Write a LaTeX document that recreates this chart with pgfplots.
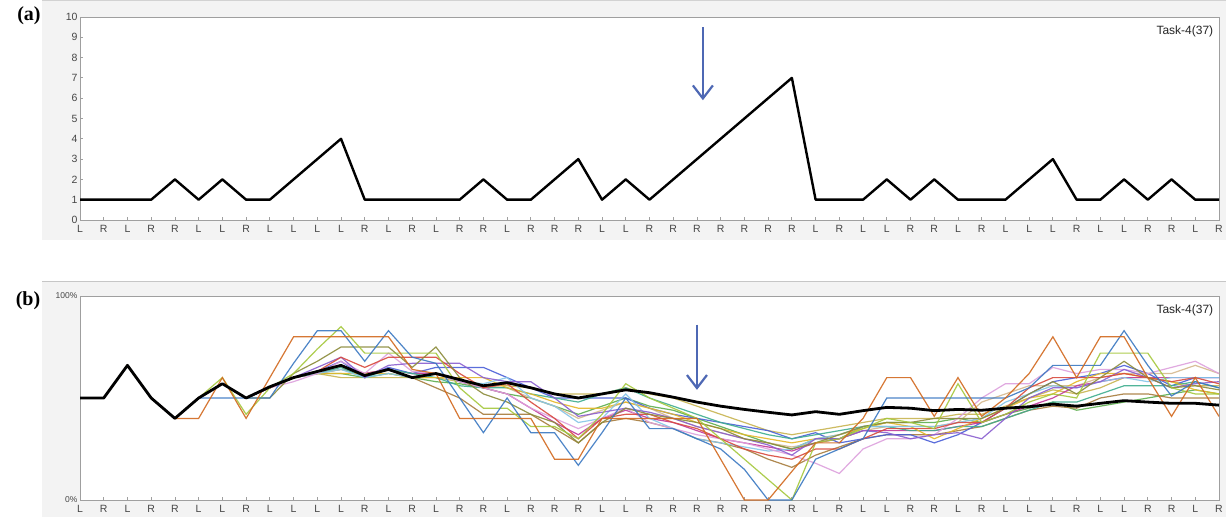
\documentclass[border=0pt]{standalone}
\usepackage{pgfplots}
\pgfplotsset{compat=1.18}
\usepackage{fontspec}
\setmainfont{Liberation Serif}
\newfontfamily\uifont{Liberation Sans}
\usetikzlibrary{arrows.meta}

\definecolor{cOr}{HTML}{D2691E}
\definecolor{cSb}{HTML}{3A78C2}
\definecolor{cYg}{HTML}{A5C83C}
\definecolor{cOl}{HTML}{8B8B3A}
\definecolor{cRd}{HTML}{D94A3E}
\definecolor{cVi}{HTML}{8A5FD0}
\definecolor{cPl}{HTML}{DDA0DD}
\definecolor{cLb}{HTML}{86C5E8}
\definecolor{cGd}{HTML}{E5B829}
\definecolor{cTe}{HTML}{3FAE8F}
\definecolor{cRb}{HTML}{4A5FD8}
\definecolor{cMg}{HTML}{C2389A}
\definecolor{cTn}{HTML}{D5B98E}
\definecolor{cBo}{HTML}{A77C3C}
\definecolor{cGr}{HTML}{5DAE4E}
\definecolor{cKh}{HTML}{C8B450}
\definecolor{arrowblue}{HTML}{4E68B4}
\definecolor{panelbg}{HTML}{F3F3F3}

\pgfplotsset{
  panel/.style={
    scale only axis, width=1139pt, anchor=south west,
    xmin=1, xmax=49, xtick={1,...,49},
    xticklabels={L,R,L,R,R,L,L,R,L,L,L,L,R,L,R,L,R,R,L,R,R,R,L,L,R,R,R,R,R,R,R,L,R,L,L,R,R,L,R,L,L,L,R,L,L,R,R,L,R},
    axis line style={draw=gray!75, line width=0.9pt},
    axis background/.style={fill=white},
    tick align=inside, xtick pos=bottom, ytick pos=left,
    major tick length=3pt,
    tick style={gray!75, line width=0.8pt},
    ticklabel style={font=\uifont\fontsize{10.5}{10.5}\selectfont, text=gray!55!black},
    xticklabel style={yshift=-2pt},
    yticklabel style={xshift=1pt},
    /pgf/number format/assume math mode=true,
  },
  thin line/.style={line width=1.2pt, opacity=0.9},
}

\begin{document}
\begin{tikzpicture}
\useasboundingbox (0pt,0pt) rectangle (1226pt,517pt);
% panel backgrounds
\fill[panelbg] (42pt,277pt) rectangle (1226pt,517pt);
\fill[panelbg] (42pt,0pt) rectangle (1226pt,235pt);
\draw[gray!45, line width=1pt] (42pt,235pt) -- (1226pt,235pt);
\draw[gray!35, line width=0.6pt] (42pt,516.7pt) -- (1226pt,516.7pt);
\node[font=\bfseries\fontsize{20}{20}\selectfont] at (29pt,501pt) {(a)};
\node[font=\bfseries\fontsize{20}{20}\selectfont] at (28pt,216pt) {(b)};

% ---------------- panel (a)
\begin{axis}[panel, at={(80pt,297pt)}, height=203pt,
  ymin=0, ymax=10, ytick={0,...,10},
  yticklabels={0,1,2,3,4,5,6,7,8,9,10}]
\addplot[black, line width=2.4pt, line join=round] coordinates {
(1,1)(2,1)(3,1)(4,1)(5,2)(6,1)(7,2)(8,1)(9,1)(10,2)
(11,3)(12,4)(13,1)(14,1)(15,1)(16,1)(17,1)(18,2)(19,1)(20,1)
(21,2)(22,3)(23,1)(24,2)(25,1)(26,2)(27,3)(28,4)(29,5)(30,6)
(31,7)(32,1)(33,1)(34,1)(35,2)(36,1)(37,2)(38,1)(39,1)(40,1)
(41,2)(42,3)(43,1)(44,1)(45,2)(46,1)(47,2)(48,1)(49,1)};
\draw[arrowblue, line width=2.2pt, -{Straight Barb[length=13pt,width=20pt,line width=2.2pt]}]
  (axis cs:27.25,9.5) -- (axis cs:27.25,5.9);
\node[anchor=north east, font=\uifont\fontsize{12}{12}\selectfont, text=black!85]
  at (rel axis cs:0.998,0.975) {Task-4(37)};
\end{axis}

% ---------------- panel (b)
\begin{axis}[panel, at={(80pt,17pt)}, height=204pt,
  ymin=0, ymax=100, ytick={0,100},
  yticklabels={0\%,100\%},
  yticklabel style={font=\uifont\fontsize{8.5}{8.5}\selectfont}]
\addplot[cKh, thin line] table[x expr=\coordindex+1, y=y, row sep=\\]{y\\50\\50\\66\\50\\40\\50\\57\\50\\55\\60\\62\\60\\60\\60\\60\\60\\58\\56\\56\\55\\52\\52\\52\\55\\52\\50\\46\\42\\38\\34\\32\\34\\36\\38\\40\\40\\40\\42\\42\\46\\50\\54\\52\\55\\60\\60\\58\\56\\56\\};
\addplot[cGr, thin line] table[x expr=\coordindex+1, y=y, row sep=\\]{y\\50\\50\\66\\50\\40\\50\\57\\50\\55\\60\\62\\62\\60\\62\\60\\58\\57\\55\\52\\50\\46\\42\\46\\50\\46\\44\\40\\36\\32\\28\\25\\30\\30\\36\\38\\38\\38\\40\\38\\42\\45\\48\\44\\46\\48\\50\\52\\54\\52\\};
\addplot[cBo, thin line] table[x expr=\coordindex+1, y=y, row sep=\\]{y\\50\\50\\66\\50\\40\\50\\57\\50\\55\\60\\62\\64\\62\\64\\60\\55\\50\\42\\42\\42\\35\\28\\38\\40\\38\\35\\30\\28\\25\\20\\16\\22\\26\\30\\32\\32\\32\\34\\36\\40\\44\\46\\45\\50\\52\\52\\50\\50\\50\\};
\addplot[cTn, thin line] table[x expr=\coordindex+1, y=y, row sep=\\]{y\\50\\50\\66\\50\\40\\50\\57\\50\\55\\60\\62\\64\\62\\64\\62\\62\\58\\56\\55\\50\\46\\40\\44\\48\\45\\40\\36\\33\\30\\28\\26\\28\\30\\34\\36\\36\\36\\38\\48\\52\\56\\56\\56\\60\\62\\62\\62\\66\\62\\};
\addplot[cMg, thin line] table[x expr=\coordindex+1, y=y, row sep=\\]{y\\50\\50\\66\\50\\40\\50\\57\\50\\55\\60\\62\\66\\62\\64\\62\\62\\58\\55\\52\\45\\38\\32\\40\\44\\40\\38\\34\\30\\28\\26\\24\\28\\30\\34\\34\\34\\34\\36\\38\\42\\46\\50\\56\\58\\60\\60\\60\\60\\60\\};
\addplot[cRb, thin line] table[x expr=\coordindex+1, y=y, row sep=\\]{y\\50\\50\\66\\50\\40\\50\\57\\50\\55\\60\\63\\68\\60\\65\\62\\65\\65\\65\\60\\55\\50\\50\\50\\50\\45\\42\\40\\38\\36\\34\\30\\33\\28\\30\\32\\32\\28\\32\\38\\45\\52\\58\\60\\62\\66\\62\\56\\60\\60\\};
\addplot[cTe, thin line] table[x expr=\coordindex+1, y=y, row sep=\\]{y\\50\\50\\66\\50\\40\\50\\57\\50\\55\\60\\62\\65\\60\\64\\62\\60\\56\\55\\55\\52\\50\\48\\52\\55\\50\\46\\42\\38\\35\\32\\30\\32\\34\\36\\36\\34\\34\\36\\36\\40\\44\\48\\48\\52\\56\\56\\56\\58\\55\\};
\addplot[cGd, thin line] table[x expr=\coordindex+1, y=y, row sep=\\]{y\\50\\50\\66\\50\\40\\50\\57\\50\\55\\60\\62\\62\\62\\62\\60\\60\\60\\60\\55\\52\\48\\45\\45\\48\\45\\42\\38\\35\\32\\30\\28\\30\\32\\35\\38\\36\\30\\35\\40\\45\\50\\52\\58\\62\\62\\60\\58\\54\\52\\};
\addplot[cLb, thin line] table[x expr=\coordindex+1, y=y, row sep=\\]{y\\50\\50\\66\\50\\40\\50\\57\\50\\55\\60\\62\\64\\60\\62\\60\\62\\58\\57\\60\\50\\46\\38\\40\\52\\40\\35\\30\\28\\26\\24\\25\\30\\32\\36\\36\\36\\36\\38\\40\\48\\52\\56\\55\\58\\60\\58\\60\\60\\60\\};
\addplot[cPl, thin line] table[x expr=\coordindex+1, y=y, row sep=\\]{y\\50\\50\\66\\50\\40\\50\\57\\50\\55\\58\\62\\68\\62\\72\\63\\62\\58\\55\\52\\45\\40\\35\\40\\45\\38\\35\\32\\30\\28\\25\\22\\18\\13\\25\\30\\30\\32\\40\\50\\57\\57\\65\\62\\64\\64\\62\\65\\68\\62\\};
\addplot[cVi, thin line] table[x expr=\coordindex+1, y=y, row sep=\\]{y\\50\\50\\66\\50\\40\\50\\57\\50\\55\\60\\65\\70\\60\\66\\67\\67\\67\\60\\58\\58\\50\\41\\43\\45\\43\\40\\36\\33\\30\\27\\22\\30\\30\\34\\33\\30\\32\\33\\30\\40\\50\\55\\55\\58\\64\\60\\55\\57\\58\\};
\addplot[cRd, thin line] table[x expr=\coordindex+1, y=y, row sep=\\]{y\\50\\50\\66\\50\\40\\50\\57\\50\\55\\60\\63\\70\\65\\70\\70\\70\\62\\55\\57\\48\\40\\30\\40\\42\\42\\38\\35\\30\\25\\22\\20\\25\\25\\30\\35\\35\\35\\38\\38\\45\\55\\60\\60\\60\\62\\60\\58\\60\\57\\};
\addplot[cOl, thin line] table[x expr=\coordindex+1, y=y, row sep=\\]{y\\50\\50\\66\\50\\40\\50\\57\\50\\50\\62\\68\\75\\75\\75\\65\\75\\60\\52\\48\\42\\38\\28\\38\\45\\42\\40\\38\\35\\30\\28\\25\\28\\32\\36\\38\\38\\40\\40\\40\\45\\52\\58\\52\\60\\68\\60\\55\\56\\54\\};
\addplot[cYg, thin line] table[x expr=\coordindex+1, y=y, row sep=\\]{y\\50\\50\\66\\50\\40\\50\\60\\42\\55\\62\\74\\85\\72\\72\\72\\72\\55\\45\\45\\36\\36\\30\\42\\57\\50\\45\\40\\30\\20\\10\\0\\28\\30\\35\\40\\38\\35\\57\\38\\42\\48\\52\\50\\72\\72\\72\\55\\52\\52\\};
\addplot[cSb, thin line] table[x expr=\coordindex+1, y=y, row sep=\\]{y\\50\\50\\66\\50\\40\\50\\50\\50\\50\\67\\83\\83\\68\\83\\70\\67\\50\\33\\50\\33\\33\\17\\33\\50\\35\\35\\30\\25\\15\\0\\0\\20\\25\\30\\50\\50\\50\\50\\50\\50\\55\\66\\66\\66\\83\\66\\51\\58\\55\\};
\addplot[cOr, thin line] table[x expr=\coordindex+1, y=y, row sep=\\]{y\\50\\50\\66\\50\\40\\40\\60\\40\\60\\80\\80\\80\\80\\80\\64\\62\\40\\40\\40\\40\\20\\20\\40\\40\\40\\40\\40\\20\\0\\0\\14\\28\\28\\40\\60\\60\\41\\60\\41\\50\\62\\80\\60\\80\\80\\60\\41\\60\\41\\};
% average line
\addplot[black, line width=2.8pt, line join=round] table[x expr=\coordindex+1, y=y, row sep=\\]{y\\50\\50\\66\\50\\40\\50\\57\\50\\55.5\\60\\63\\66\\61\\64\\60\\62\\59\\56\\57.5\\55\\52\\50\\52\\54\\52.6\\50.4\\48\\46\\44.4\\43\\41.7\\43.3\\42\\43.8\\45.4\\45\\43.8\\44.4\\44\\45\\45.7\\47\\46\\47.4\\48.7\\48\\47.4\\47.4\\46.5\\};
\draw[arrowblue, line width=2.2pt, -{Straight Barb[length=13pt,width=20pt,line width=2.2pt]}]
  (axis cs:27,86) -- (axis cs:27,54);
\node[anchor=north east, font=\uifont\fontsize{12}{12}\selectfont, text=black!85]
  at (rel axis cs:0.998,0.975) {Task-4(37)};
\end{axis}
\end{tikzpicture}
\end{document}
